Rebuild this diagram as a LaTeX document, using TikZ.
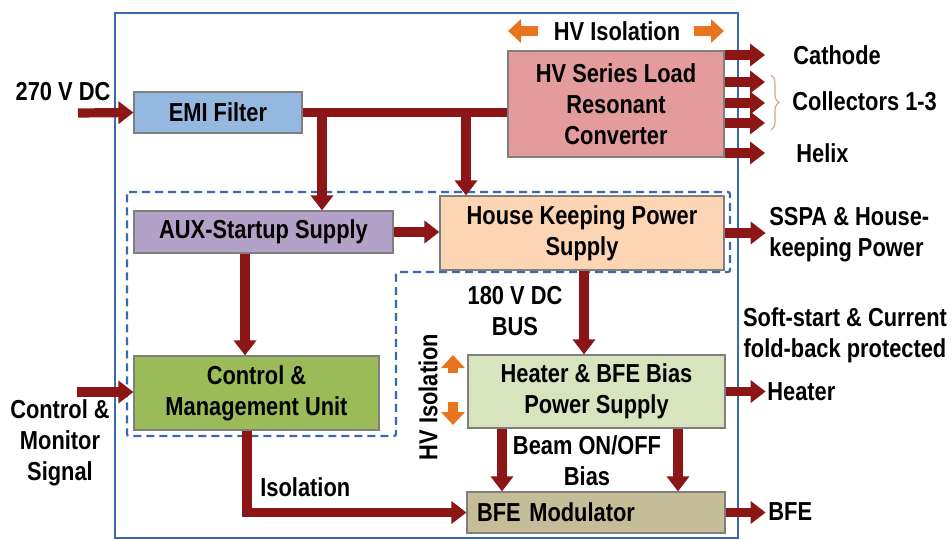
\documentclass[tikz,border=0pt]{standalone}
\usepackage{fontspec}
\setmainfont{Liberation Sans}[FakeStretch=0.84]
\usetikzlibrary{arrows.meta, decorations.pathreplacing, calc, positioning}
\definecolor{pwrRed}{HTML}{8C1515}
\definecolor{hvOrange}{HTML}{E8741E}
\definecolor{frameBlue}{HTML}{3A6AAE}
\definecolor{boxGrey}{HTML}{7F7F7F}
\definecolor{emiFill}{HTML}{95B8E0}
\definecolor{hvFill}{HTML}{E39B9C}
\definecolor{auxFill}{HTML}{B3A2C7}
\definecolor{hkFill}{HTML}{FCD5B5}
\definecolor{cmuFill}{HTML}{9BBB59}
\definecolor{htrFill}{HTML}{D7E4BD}
\definecolor{bfeFill}{HTML}{C4BD97}
\definecolor{braceCol}{HTML}{D9A58C}
\tikzset{
  txt/.style      = {font=\bfseries\fontsize{13}{15.5}\selectfont, inner sep=0pt},
  block/.style    = {txt, draw=boxGrey, line width=0.6pt, align=center},
  pline/.style    = {pwrRed, line width=4.6pt},
  parrow/.style   = {pline, -{Triangle[length=7.5pt,width=11pt]}},
  hvarrow/.style  = {hvOrange, line width=5pt, -{Triangle[length=6.5pt,width=11.5pt]}},
  frame/.style    = {frameBlue, line width=1.1pt},
  region/.style   = {frameBlue, line width=1.1pt, dash pattern=on 4pt off 2.5pt},
}

\begin{document}
\begin{tikzpicture}[x=0.5pt,y=-0.5pt]
  \useasboundingbox (0,0) rectangle (952,540);
  \draw[frame] (115,13) rectangle (738,538);
  \draw[region, rounded corners=1pt] (127,192) -- (730,192) -- (730,272) -- (396,272)
    -- (396,436) -- (127,436) -- cycle;

  % blocks
  \node[block, fill=emiFill, minimum width=84pt, minimum height=20.5pt] (emi) at (218,112.5) {EMI Filter};
  \node[block, fill=hvFill, minimum width=108pt, minimum height=53pt] (hv) at (616,104)
    {HV Series Load\\Resonant\\Converter};
  \node[block, fill=auxFill, minimum width=129.5pt, minimum height=21pt] (aux) at (263.5,232) {AUX-Startup Supply};
  \node[block, fill=hkFill, minimum width=142pt, minimum height=37pt] (hk) at (582,233)
    {House Keeping Power\\Supply};
  \node[block, fill=cmuFill, minimum width=122.5pt, minimum height=37pt] (cmu) at (256.5,393)
    {Control \&\\Management Unit};
  \node[block, fill=htrFill, minimum width=128.5pt, minimum height=36.5pt] (htr) at (596.5,391.5)
    {Heater \& BFE Bias\\Power Supply};
  \node[block, fill=bfeFill, minimum height=20.5pt, text width=119pt, inner xsep=5pt, align=left] (bfe)
    at (596,512.5) {BFE Modulator};

  % junctions and free ends
  \coordinate (j1) at (322,113);
  \coordinate (j2) at (466,113);
  \coordinate (vin) at (78,113);
  \coordinate (cin) at (77,392);

  \draw[parrow] (vin) -- (emi.west);
  \draw[pline] (emi.east) -- (emi.east -| hv.west);
  \draw[parrow] (j1) -- (j1 |- aux.north);
  \draw[parrow] (j2) -- (j2 |- hk.north);
  \draw[parrow] (aux.east) -- (aux.east -| hk.west);
  \draw[parrow] (245,0 |- aux.south) -- (245,0 |- cmu.north);
  \draw[parrow] (584,0 |- hk.south) -- (584,0 |- htr.north);
  \draw[parrow] (502,0 |- htr.south) -- (502,0 |- bfe.north);
  \draw[parrow] (678,0 |- htr.south) -- (678,0 |- bfe.north);
  \draw[parrow] (cin) -- (cin -| cmu.west);
  \draw[parrow] (247,0 |- cmu.south) -- (247,0 |- bfe.west) -- (bfe.west);

  % outputs
  \foreach \y in {55,82,103,123,153}
    \draw[parrow] (hv.east |- 0,\y) -- (765,\y);
  \draw[parrow] (hk.east) -- ++(41,0);
  \draw[parrow] (htr.east) -- ++(40,0);
  \draw[parrow] (bfe.east) -- ++(40,0);
  \draw[braceCol, line width=0.6pt, decorate, decoration={brace, amplitude=4pt}] (771,75) -- (771,130);

  % isolation marks
  \draw[hvarrow] (538,31) -- (508,31);
  \draw[hvarrow] (694,31) -- (724,31);
  \draw[hvarrow] (453,373) -- (453,355);
  \draw[hvarrow] (453,402) -- (453,425);

  % labels
  \node[txt] (hviso) at (617,31) {HV Isolation};
  \node[txt, rotate=90] (hviso2) at (428,397) {HV Isolation};
  \node[txt] (vdc) at (63,92) {270 V DC};
  \node[txt, align=center] (cms) at (60,443) {Control \&\\Monitor\\Signal};
  \node[txt, anchor=west] (cath) at (793,55) {Cathode};
  \node[txt, anchor=west] (coll) at (792,101) {Collectors 1-3};
  \node[txt, anchor=west] (helix) at (796,153) {Helix};
  \node[txt, anchor=west, align=left] (sspa) at (769,235) {SSPA \& House-\\keeping Power};
  \node[txt, align=center] (soft) at (845,335) {Soft-start \& Current\\fold-back protected};
  \node[txt, anchor=west] (heater) at (767,392) {Heater};
  \node[txt, anchor=west] (bfeout) at (768,512) {BFE};
  \node[txt, align=center] (bus) at (515,311) {180 V DC\\BUS};
  \node[txt, align=center] (beam) at (587,461) {Beam ON/OFF\\Bias};
  \node[txt, anchor=west] (iso) at (260,487) {Isolation};
\end{tikzpicture}
\end{document}
